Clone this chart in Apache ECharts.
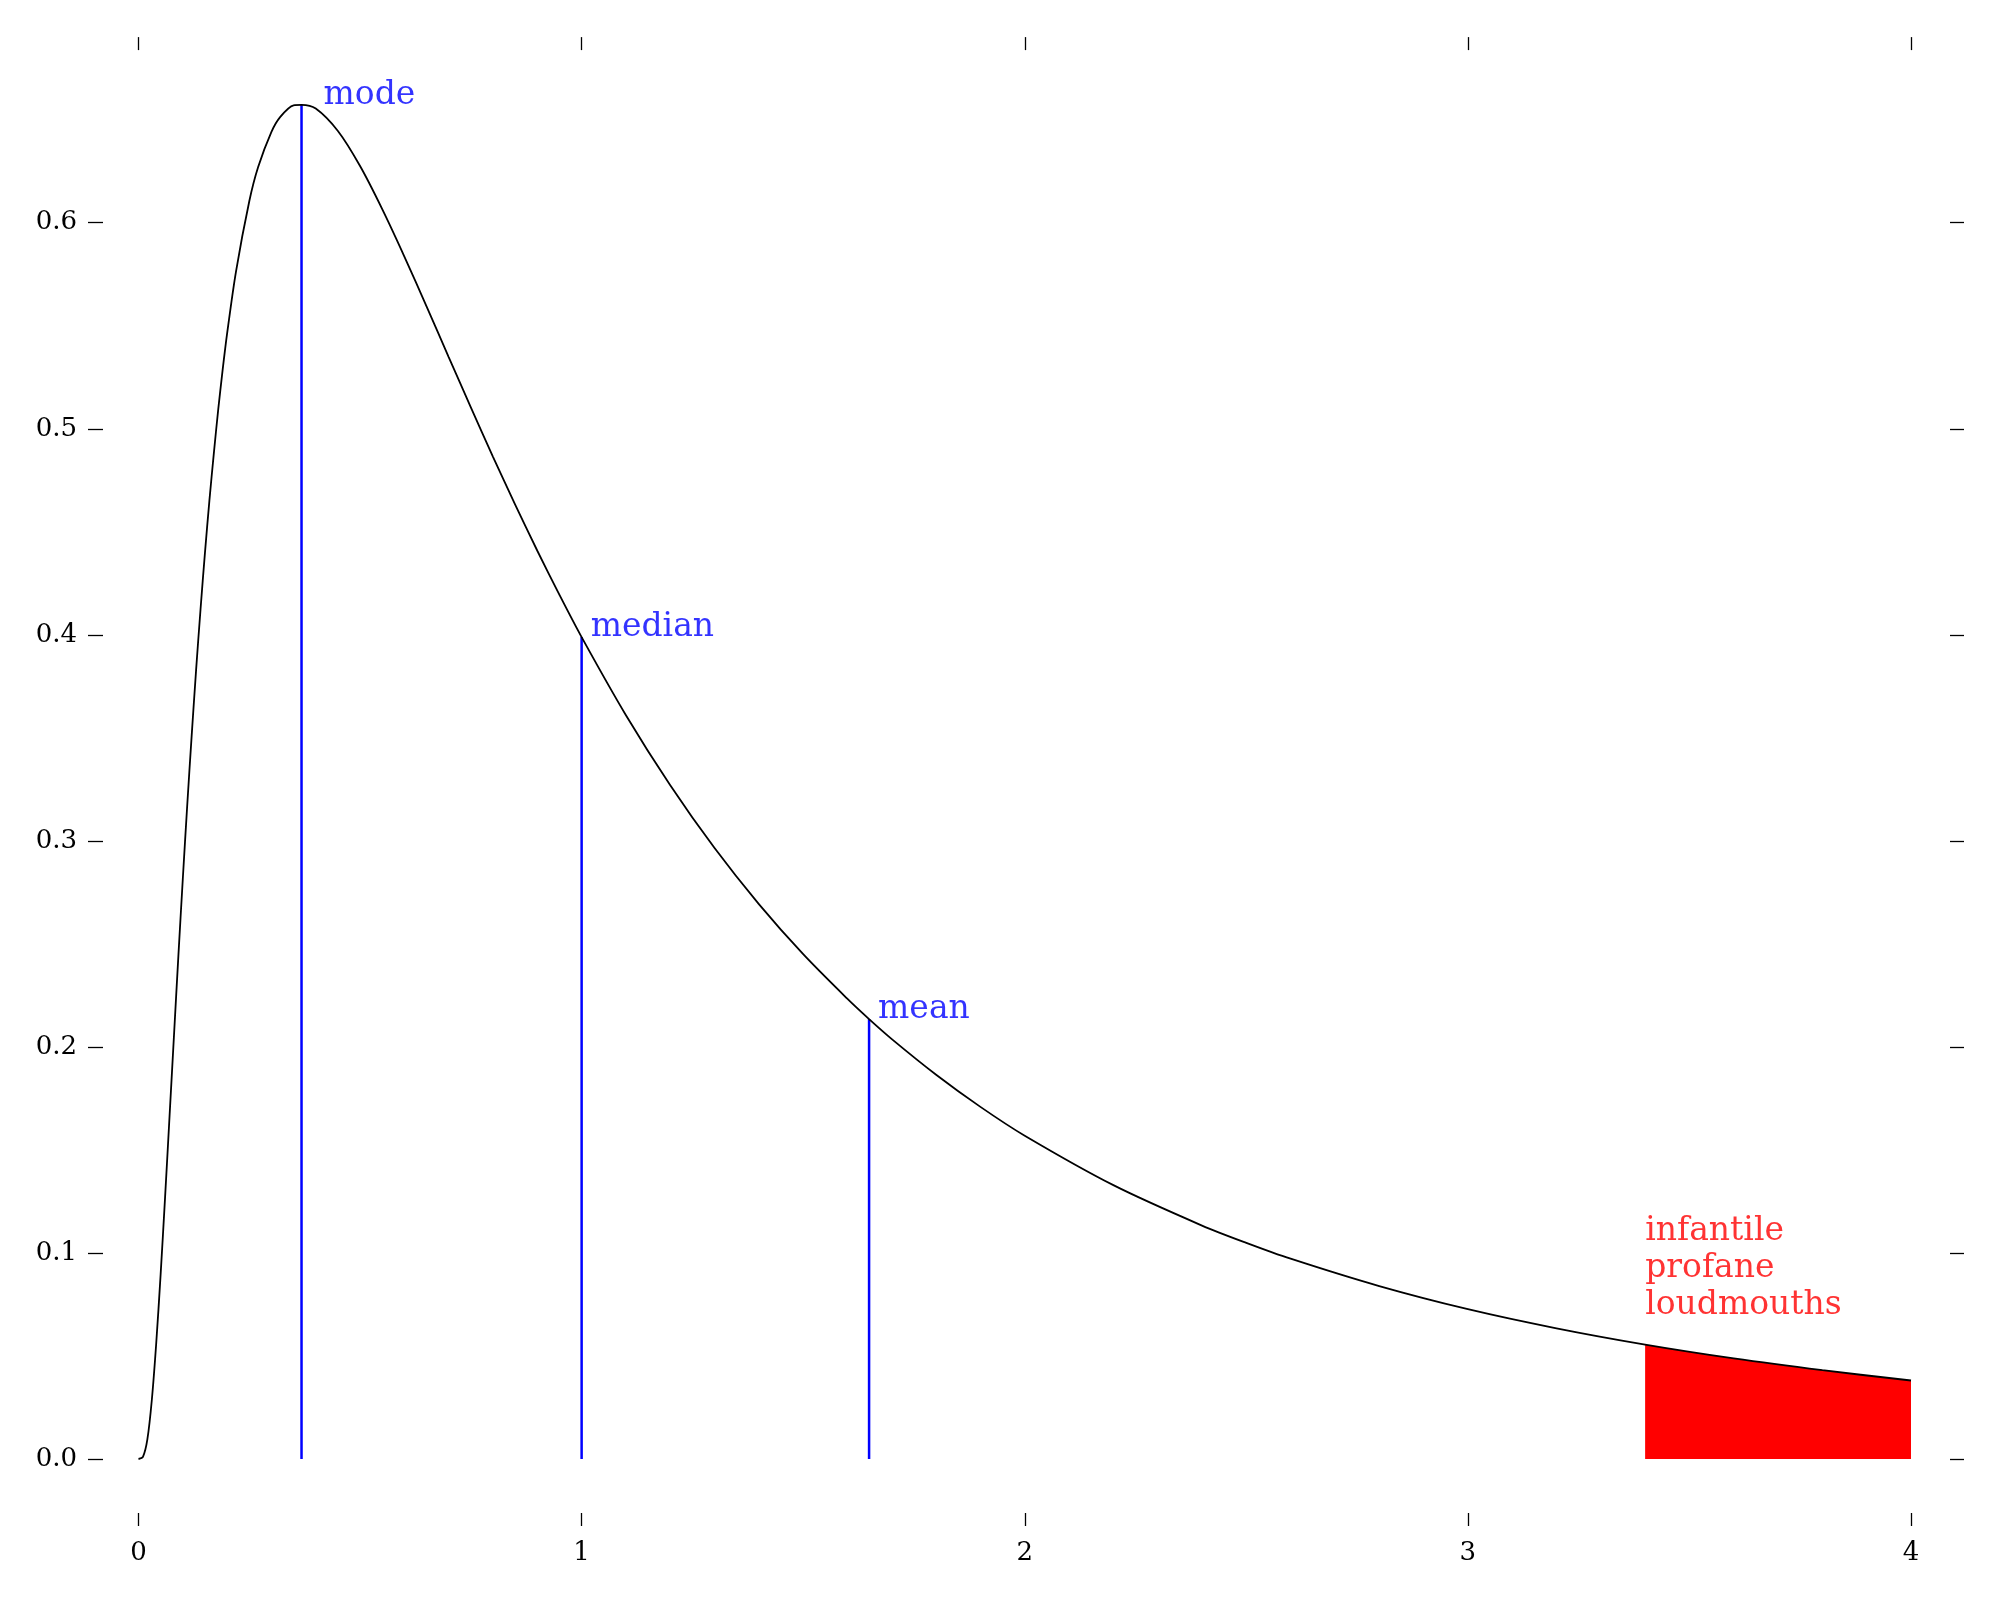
<!DOCTYPE html>
<html>
<head>
<meta charset="utf-8">
<script src="https://cdn.jsdelivr.net/npm/echarts@6/dist/echarts.min.js"></script>
<style>
html,body{margin:0;padding:0;background:#fff;}
#chart{width:2000px;height:1600px;}
</style>
</head>
<body>
<div id="chart"></div>
<script>
var curveX = [0, 0.01, 0.02, 0.03, 0.04, 0.05, 0.06, 0.07, 0.08, 0.09, 0.1, 0.11, 0.12, 0.13, 0.14, 0.15, 0.16, 0.17, 0.18, 0.19, 0.2, 0.22, 0.25, 0.27, 0.3, 0.32, 0.35, 0.3679, 0.4, 0.45, 0.5, 0.55, 0.6, 0.65, 0.7, 0.75, 0.8, 0.85, 0.9, 0.95, 1.0, 1.1, 1.2, 1.3, 1.4, 1.5, 1.6, 1.6487, 1.7, 1.8, 1.9, 2.0, 2.2, 2.4, 2.5, 2.6, 2.8, 3.0, 3.2, 3.4, 3.6, 3.8, 4.0];
var curveY = [0, 0.001, 0.0095, 0.0285, 0.0562, 0.0898, 0.1271, 0.1661, 0.2053, 0.2442, 0.2816, 0.3174, 0.3511, 0.3830, 0.4124, 0.4399, 0.4651, 0.4881, 0.5095, 0.5288, 0.5463, 0.5763, 0.6104, 0.6270, 0.6441, 0.6514, 0.6570, 0.6572, 0.6554, 0.6445, 0.6275, 0.6066, 0.5836, 0.5594, 0.5348, 0.5104, 0.4864, 0.4632, 0.4408, 0.4194, 0.3989, 0.3610, 0.3270, 0.2965, 0.2693, 0.2450, 0.2233, 0.2135, 0.2038, 0.1865, 0.1709, 0.1569, 0.1329, 0.1133, 0.1049, 0.0972, 0.0839, 0.0727, 0.0634, 0.0555, 0.0488, 0.0431, 0.0381];
// Shaded tail
var tailX = [3.4, 3.6, 3.8, 4.0];
var tailY = [0.0555, 0.0488, 0.0431, 0.0381];
var tailLabel = 'infantile\nprofane\nloudmouths';
var tailLabelAt = [3.4, 0.07];
// Statistics
var statNames = ['mode', 'median', 'mean'];
var statX = [0.3679, 1.0, 1.6487];
var statY = [0.6572, 0.3989, 0.2135];
// Ticks
var xTicks = [0, 1, 2, 3, 4];
var yTicks = [0, 0.1, 0.2, 0.3, 0.4, 0.5, 0.6];

var FONT = 'DejaVu Serif';
var statDx = [22, 9, 9];

function pairs(xs, ys){ return xs.map(function(x,i){ return [x, ys[i]]; }); }

var series = [];
series.push({
  type: 'line', data: pairs(tailX, tailY), showSymbol: false, smooth: 0.3,
  lineStyle: {width: 0}, areaStyle: {color: '#ff0000', opacity: 1},
  itemStyle: {color: '#ff0000'}, z: 2, silent: true
});
series.push({
  type: 'line', data: pairs(curveX, curveY), showSymbol: false, smooth: 0.3,
  lineStyle: {color: '#000', width: 1.8}, itemStyle: {color: '#000'}, z: 4, silent: true
});
statNames.forEach(function(n, i){
  series.push({
    type: 'line', data: [[statX[i], 0], [statX[i], statY[i]]], showSymbol: false,
    lineStyle: {color: '#0000ff', width: 2.5}, itemStyle: {color: '#0000ff'}, z: 3, silent: true
  });
  series.push({
    type: 'scatter', data: [[statX[i], statY[i]]], symbolSize: 0, z: 5, silent: true,
    label: {show: true, formatter: n, position: [statDx[i], 9], align: 'left', verticalAlign: 'bottom',
      color: '#0000ff', fontFamily: FONT, fontSize: 33, lineHeight: 37}
  });
});
series.push({
  type: 'scatter', data: [tailLabelAt], symbolSize: 0, z: 5, silent: true,
  label: {show: true, formatter: tailLabel, position: [0, 9], align: 'left', verticalAlign: 'bottom',
    color: '#ff0000', fontFamily: FONT, fontSize: 33, lineHeight: 37}
});

var tickStyle = {color: '#000', width: 1.3};
var chart = echarts.init(document.getElementById('chart'));
chart.setOption({
  backgroundColor: '#fff',
  animation: false,
  grid: {left: 138.5, right: 89, top: 99.1, bottom: 141, containLabel: false},
  xAxis: [
    {type: 'value', position: 'bottom', min: 0, max: 4, offset: 67,
     axisLine: {show: false, onZero: false}, splitLine: {show: false},
     axisTick: {show: true, inside: true, length: 13, lineStyle: tickStyle, customValues: xTicks},
     axisLabel: {show: true, margin: 14, color: '#000', fontFamily: FONT, fontSize: 26, customValues: xTicks,
       formatter: function(v){ return String(v); }}},
    {type: 'value', position: 'top', min: 0, max: 4, offset: 62,
     axisLine: {show: false, onZero: false}, splitLine: {show: false},
     axisTick: {show: true, inside: true, length: 13, lineStyle: tickStyle, customValues: xTicks},
     axisLabel: {show: false}}
  ],
  yAxis: [
    {type: 'value', position: 'left', min: 0, max: 0.66, offset: 50.5,
     axisLine: {show: false, onZero: false}, splitLine: {show: false},
     axisTick: {show: true, inside: true, length: 15, lineStyle: tickStyle, customValues: yTicks},
     axisLabel: {show: true, margin: 11, color: '#000', fontFamily: FONT, fontSize: 26, customValues: yTicks,
       formatter: function(v){ return v.toFixed(1); }}},
    {type: 'value', position: 'right', min: 0, max: 0.66, offset: 53,
     axisLine: {show: false, onZero: false}, splitLine: {show: false},
     axisTick: {show: true, inside: true, length: 14, lineStyle: tickStyle, customValues: yTicks},
     axisLabel: {show: false}}
  ],
  series: series
});
</script>
</body>
</html>
